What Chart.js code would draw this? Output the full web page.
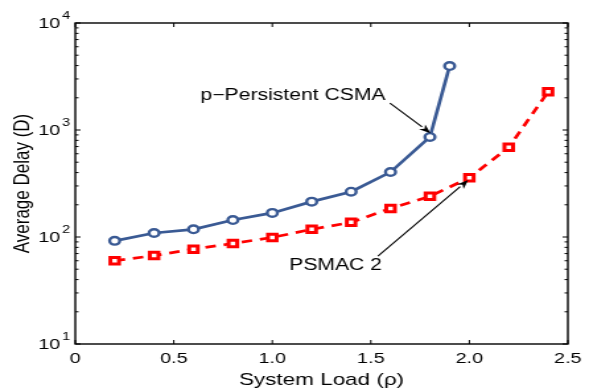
<!DOCTYPE html>
<html>
<head>
<meta charset="utf-8">
<script src="https://cdn.jsdelivr.net/npm/chart.js@4/dist/chart.umd.min.js"></script>
<style>
  html, body { margin: 0; padding: 0; background: #fff; overflow: hidden; }
  /* the figure is drawn on a narrower canvas and widened to 589px */
  #wrap { width: 446px; height: 389px; transform: scaleX(1.3206); transform-origin: 0 0; }
</style>
</head>
<body>
<div id="wrap"><canvas id="c" width="446" height="389"></canvas></div>
<script>
// p-Persistent CSMA: average delay vs. system load
const loadCsma  = [0.2, 0.4, 0.6, 0.8, 1.0, 1.2, 1.4, 1.6, 1.8, 1.9];
const delayCsma = [92, 109, 118, 144, 168, 214, 265, 405, 861, 3960];

// PSMAC 2: average delay vs. system load
const loadPsmac  = [0.2, 0.4, 0.6, 0.8, 1.0, 1.2, 1.4, 1.6, 1.8, 2.0, 2.2, 2.4];
const delayPsmac = [60, 67, 77, 87, 99, 118, 137, 185, 240, 358, 689, 2280];

// axis ticks
const xTicks = [0, 0.5, 1, 1.5, 2, 2.5];
const yDecades = [1, 2, 3, 4];   // labels 10^1 .. 10^4

// callout labels and their arrows (data coordinates)
const noteText = ['p\u2212Persistent CSMA', 'PSMAC 2'];
const noteX = [1.105, 1.321];
const noteY = [2080, 53.6];
const arrowFromX = [1.597, 1.536];
const arrowFromY = [1786, 66.4];
const arrowToX = [1.803, 1.994];
const arrowToY = [933, 341];

const FONT = '"Liberation Sans", Arial, Helvetica, sans-serif';

const toPoints = (xs, ys) => xs.map((v, i) => ({ x: v, y: ys[i] }));

// box, inward tick marks and the 10^n labels
const framePlugin = {
  id: 'frame',
  beforeDatasetsDraw(chart) {
    const { ctx, chartArea: a, scales: { x, y } } = chart;
    ctx.save();
    ctx.strokeStyle = '#000';
    ctx.lineWidth = 1.4;
    ctx.strokeRect(a.left, a.top, a.right - a.left, a.bottom - a.top);

    ctx.lineWidth = 1;
    ctx.beginPath();
    xTicks.forEach(v => {
      const px = x.getPixelForValue(v);
      ctx.moveTo(px, a.bottom); ctx.lineTo(px, a.bottom - 4);
      ctx.moveTo(px, a.top);    ctx.lineTo(px, a.top + 4);
    });
    yDecades.forEach(e => {
      for (let m = 1; m <= 9; m++) {
        if (e === yDecades[yDecades.length - 1] && m > 1) break;
        const py = y.getPixelForValue(m * Math.pow(10, e));
        const len = m === 1 ? 4 : 2.5;
        ctx.moveTo(a.left, py);  ctx.lineTo(a.left + len, py);
        ctx.moveTo(a.right, py); ctx.lineTo(a.right - len, py);
      }
    });
    ctx.stroke();

    ctx.fillStyle = '#000';
    ctx.textBaseline = 'middle';
    yDecades.forEach(e => {
      const py = y.getPixelForValue(Math.pow(10, e));
      ctx.font = '15px ' + FONT;
      ctx.textAlign = 'right';
      ctx.fillText('10', a.left - 11.3, py + 1);
      ctx.font = '11px ' + FONT;
      ctx.textAlign = 'left';
      ctx.fillText(String(e), a.left - 10, py - 7);
    });
    ctx.restore();
  }
};

// text callouts with arrows pointing at the curves
const notePlugin = {
  id: 'notes',
  afterDatasetsDraw(chart) {
    const { ctx, scales: { x, y } } = chart;
    ctx.save();
    ctx.fillStyle = '#000';
    ctx.strokeStyle = '#000';
    ctx.font = '16px ' + FONT;
    ctx.textAlign = 'center';
    ctx.textBaseline = 'middle';
    noteText.forEach((t, i) => {
      ctx.fillText(t, x.getPixelForValue(noteX[i]), y.getPixelForValue(noteY[i]));
    });
    arrowFromX.forEach((fx, i) => {
      const x0 = x.getPixelForValue(fx), y0 = y.getPixelForValue(arrowFromY[i]);
      const x1 = x.getPixelForValue(arrowToX[i]), y1 = y.getPixelForValue(arrowToY[i]);
      const ang = Math.atan2(y1 - y0, x1 - x0);
      const L = 9, W = 3.4;
      const bx = x1 - L * Math.cos(ang), by = y1 - L * Math.sin(ang);
      ctx.lineWidth = 1.1;
      ctx.beginPath();
      ctx.moveTo(x0, y0);
      ctx.lineTo(bx, by);
      ctx.stroke();
      ctx.beginPath();
      ctx.moveTo(x1, y1);
      ctx.lineTo(bx + W * Math.sin(ang), by - W * Math.cos(ang));
      ctx.lineTo(x1 - 0.7 * L * Math.cos(ang), y1 - 0.7 * L * Math.sin(ang));
      ctx.lineTo(bx - W * Math.sin(ang), by + W * Math.cos(ang));
      ctx.closePath();
      ctx.fill();
    });
    ctx.restore();
  }
};

new Chart(document.getElementById('c'), {
  type: 'line',
  data: {
    datasets: [
      {
        label: 'p-Persistent CSMA',
        data: toPoints(loadCsma, delayCsma),
        borderColor: '#3a5a94',
        borderWidth: 2.7,
        pointStyle: 'circle',
        pointRadius: 3.8,
        pointBorderWidth: 2.4,
        pointBorderColor: '#3a5a94',
        pointBackgroundColor: '#ffffff',
        tension: 0
      },
      {
        label: 'PSMAC 2',
        data: toPoints(loadPsmac, delayPsmac),
        borderColor: '#ff0000',
        borderWidth: 2.7,
        borderDash: [8, 6],
        pointStyle: 'rect',
        pointRadius: 4.6,
        pointBorderWidth: 3,
        pointBorderColor: '#ff0000',
        pointBackgroundColor: '#ffffff',
        tension: 0
      }
    ]
  },
  options: {
    responsive: false,
    animation: false,
    devicePixelRatio: 1,
    layout: { padding: { top: 23, right: 16, left: 0, bottom: 0 } },
    plugins: { legend: { display: false }, tooltip: { enabled: false } },
    scales: {
      x: {
        type: 'linear',
        min: 0,
        max: 2.5,
        afterBuildTicks: s => { s.ticks = xTicks.map(v => ({ value: v })); },
        afterFit: s => { s.height = 45; },
        grid: { display: false, drawTicks: false },
        border: { display: false },
        ticks: { color: '#000', font: { family: FONT, size: 15 }, padding: 5.5, maxRotation: 0, autoSkip: false },
        title: {
          display: true,
          text: 'System Load (\u03c1)',
          color: '#000',
          font: { family: FONT, size: 17, lineHeight: 1 },
          padding: { top: 0, bottom: 0.5 }
        }
      },
      y: {
        type: 'logarithmic',
        min: 10,
        max: 10000,
        afterFit: s => { s.width = 57; },
        grid: { display: false, drawTicks: false },
        border: { display: false },
        ticks: { display: false },
        title: {
          display: true,
          text: 'Average Delay (D)',
          color: '#000',
          font: { family: FONT, size: 17, lineHeight: 1 },
          padding: { top: 8.5, bottom: 0 }
        }
      }
    }
  },
  plugins: [framePlugin, notePlugin]
});
</script>
</body>
</html>
